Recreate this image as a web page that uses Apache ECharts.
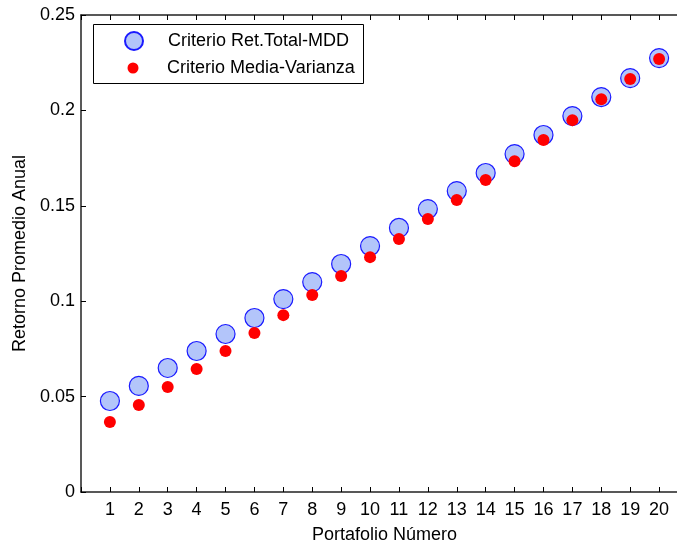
<!DOCTYPE html>
<html>
<head>
<meta charset="utf-8">
<script src="https://cdn.jsdelivr.net/npm/echarts@6/dist/echarts.min.js"></script>
<style>
  html, body { margin: 0; padding: 0; background: #fff; }
  #chart { width: 677px; height: 545px; }
</style>
</head>
<body>
<div id="chart"></div>
<script>
// portafolios 1..20
const portfolios = [1, 2, 3, 4, 5, 6, 7, 8, 9, 10, 11, 12, 13, 14, 15, 16, 17, 18, 19, 20]
// criterio Ret.Total-MDD
const mddValues = [0.0477, 0.0556, 0.0650, 0.0739, 0.0828, 0.0912, 0.1011, 0.1100, 0.1195, 0.1289,
  0.1384, 0.1483, 0.1577, 0.1672, 0.1771, 0.1871, 0.1970, 0.2070, 0.2169, 0.2274]
// criterio Media-Varianza
const mvValues = [0.0367, 0.0456, 0.0550, 0.0645, 0.0739, 0.0833, 0.0927, 0.1032, 0.1132, 0.1231,
  0.1326, 0.1431, 0.1530, 0.1635, 0.1734, 0.1845, 0.1949, 0.2059, 0.2164, 0.2269]
const seriesNames = ['Criterio Ret.Total-MDD', 'Criterio Media-Varianza']

const fontBase = {
  fontFamily: '"Liberation Sans", Arial, sans-serif',
  fontSize: 18,
  color: '#000',
}
const axisLineStyle = { color: '#222', width: 1.5 }

const chart = echarts.init(document.getElementById('chart'))

const option = {
  animation: false,
  backgroundColor: '#fff',
  textStyle: fontBase,
  graphic: [{
    type: 'rect',
    left: 93,
    top: 24,
    z: 3,
    shape: { width: 270, height: 59 },
    style: { fill: '#fff', stroke: '#000', lineWidth: 1 },
  }],
  legend: [{
    data: [{ name: seriesNames[0], icon: 'circle' }],
    left: 124,
    top: 31,
    padding: 0,
    itemWidth: 18,
    itemHeight: 18,
    textStyle: { ...fontBase, padding: [0, 0, 0, 20] },
  }, {
    data: [{ name: seriesNames[1], icon: 'circle' }],
    left: 127.5,
    top: 59,
    padding: 0,
    itemWidth: 11,
    itemHeight: 11,
    textStyle: { ...fontBase, padding: [0, 0, 0, 23.5] },
  }],
  grid: {
    left: 81,
    top: 15,
    width: 607,
    height: 477,
    outerBoundsMode: 'none',
  },
  xAxis: [{
    type: 'value',
    min: 0,
    max: 21,
    interval: 1,
    name: 'Portafolio Número',
    nameLocation: 'middle',
    nameGap: 34,
    nameTextStyle: { ...fontBase },
    axisLine: { lineStyle: axisLineStyle },
    axisTick: { inside: true, length: 5, lineStyle: { color: '#000' } },
    axisLabel: {
      ...fontBase,
      margin: 9,
      formatter: v => (v >= 1 && v <= 20 ? String(v) : ''),
    },
    splitLine: { show: false },
  }, {
    type: 'value',
    position: 'top',
    min: 0,
    max: 21,
    interval: 1,
    axisLine: { lineStyle: axisLineStyle },
    axisTick: { inside: true, length: 5, lineStyle: { color: '#000' } },
    axisLabel: { show: false },
    splitLine: { show: false },
  }],
  yAxis: {
    type: 'value',
    min: 0,
    max: 0.25,
    interval: 0.05,
    name: 'Retorno Promedio Anual',
    nameLocation: 'middle',
    nameGap: 52,
    nameTextStyle: { ...fontBase },
    axisLine: { lineStyle: axisLineStyle },
    axisTick: { inside: true, length: 5, lineStyle: { color: '#000' } },
    axisLabel: { ...fontBase, margin: 6 },
    splitLine: { show: false },
  },
  series: [{
    name: seriesNames[0],
    type: 'scatter',
    symbol: 'circle',
    symbolSize: 19,
    itemStyle: { color: '#b3c5fa', borderColor: '#1a1aff', borderWidth: 1.2, opacity: 1 },
    data: portfolios.map((p, i) => [p, mddValues[i]]),
  }, {
    name: seriesNames[1],
    type: 'scatter',
    symbol: 'circle',
    symbolSize: 12,
    itemStyle: { color: '#ff0000', opacity: 1 },
    data: portfolios.map((p, i) => [p, mvValues[i]]),
  }],
}

chart.setOption(option)
</script>
</body>
</html>
